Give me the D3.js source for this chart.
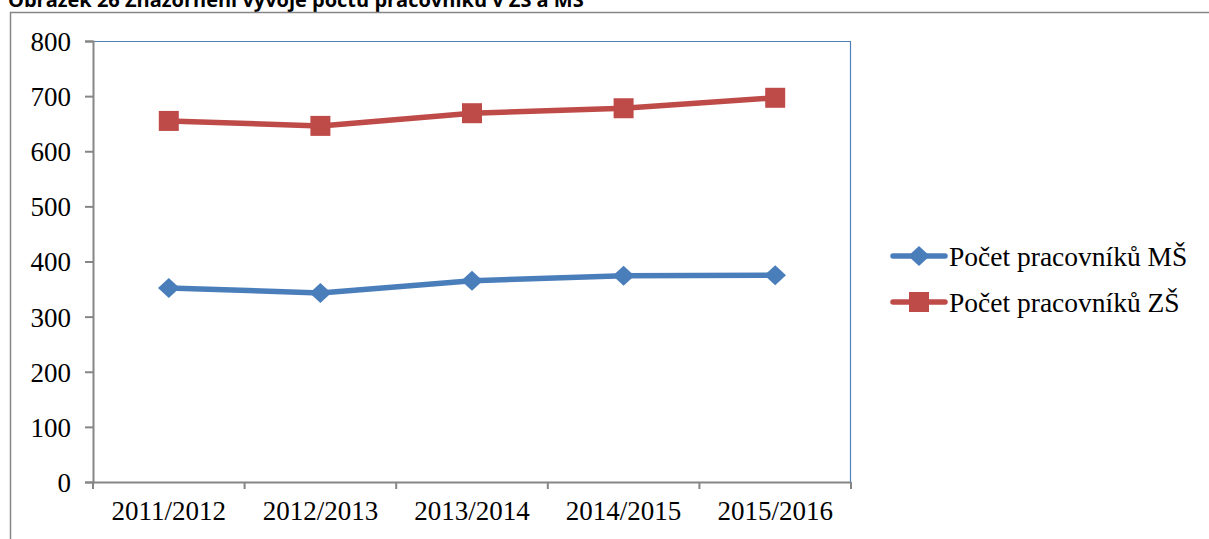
<!DOCTYPE html>
<html><head><meta charset="utf-8">
<script src="https://cdn.jsdelivr.net/npm/d3@7"></script>
<style>body{margin:0;background:#fff}svg{display:block}</style>
</head><body>
<script>
const categories = ["2011/2012","2012/2013","2013/2014","2014/2015","2015/2016"];
const seriesNames = ["Počet pracovníků MŠ","Počet pracovníků ZŠ"];
const valuesMS = [352, 343, 365, 374, 375];
const valuesZS = [655, 646, 669, 678, 697];
const yTicks = [0,100,200,300,400,500,600,700,800];
const title = "Obrázek 26 Znázornění vývoje počtu pracovníků v ZŠ a MŠ";

const W=1209,H=539;
const svg=d3.select("body").append("svg").attr("width",W).attr("height",H);
svg.append("text").attr("x",8).attr("y",7).text(title)
  .attr("font-family","'Open Sans', 'Liberation Sans', sans-serif").attr("font-weight","bold").attr("font-size",20).attr("fill","#000");
svg.append("path").attr("d",`M10.5,${H} V12.5 H${W}`).attr("fill","none").attr("stroke","#868686").attr("stroke-width",1.5);

const L=93,R=851,T=41,B=482;
const x=d3.scaleBand().domain(categories).range([L,R]);
const y=d3.scaleLinear().domain([0,800]).range([B,T]);
const serif="'Liberation Serif','Times New Roman',serif";

svg.append("path").attr("d",`M${L},${T+0.5} H${R-0.5} V${B}`).attr("fill","none").attr("stroke","#4F81BD").attr("stroke-width",1.2);

const ya=svg.append("g").attr("transform",`translate(${L},0)`).call(d3.axisLeft(y).tickValues(yTicks).tickSize(8).tickPadding(14));
ya.select(".domain").attr("stroke","#868686").attr("stroke-width",2);
ya.selectAll(".tick line").attr("stroke","#868686").attr("stroke-width",2);
ya.selectAll("text").attr("font-family",serif).attr("font-size",27).attr("fill","#000").attr("dy","0.35em");

const xa=svg.append("g").attr("transform",`translate(0,${B})`).call(d3.axisBottom(x).tickSize(0).tickPadding(22));
xa.select(".domain").attr("stroke","#868686").attr("stroke-width",2);
xa.selectAll("text").attr("font-family",serif).attr("font-size",27).attr("fill","#000").attr("dy","0.6em");
const bounds=categories.map(c=>x(c)).concat([R]);
svg.append("g").selectAll("line").data(bounds).join("line")
  .attr("x1",d=>d).attr("x2",d=>d).attr("y1",B).attr("y2",B+7).attr("stroke","#868686").attr("stroke-width",2);

const diamond={draw(ctx,size){const w=10.8,h=10;ctx.moveTo(0,-h);ctx.lineTo(w,0);ctx.lineTo(0,h);ctx.lineTo(-w,0);ctx.closePath();}};
const cx=c=>x(c)+x.bandwidth()/2;
const series=[{vals:valuesMS,color:"#4A7EBB",sym:diamond,size:1},{vals:valuesZS,color:"#BE4B48",sym:d3.symbolSquare,size:400}];
series.forEach(s=>{
  const pts=categories.map((c,i)=>[cx(c),y(s.vals[i])]);
  svg.append("path").attr("d",d3.line()(pts)).attr("fill","none").attr("stroke",s.color).attr("stroke-width",5.5).attr("stroke-linejoin","round");
  svg.append("g").selectAll("path").data(pts).join("path")
    .attr("transform",d=>`translate(${d[0]},${d[1]})`)
    .attr("d",d3.symbol().type(s.sym).size(s.size)).attr("fill",s.color);
});

const legY=[256,302];
series.forEach((s,i)=>{
  const g=svg.append("g").attr("transform",`translate(0,${legY[i]})`);
  g.append("line").attr("x1",893).attr("x2",945).attr("stroke",s.color).attr("stroke-width",5.5).attr("stroke-linecap","round");
  g.append("path").attr("transform","translate(919,0)").attr("d",d3.symbol().type(s.sym).size(s.size)).attr("fill",s.color);
  g.append("text").attr("x",949).attr("dy","0.35em").text(seriesNames[i]).attr("font-family",serif).attr("font-size",27.5).attr("fill","#000");
});
</script>
</body></html>
